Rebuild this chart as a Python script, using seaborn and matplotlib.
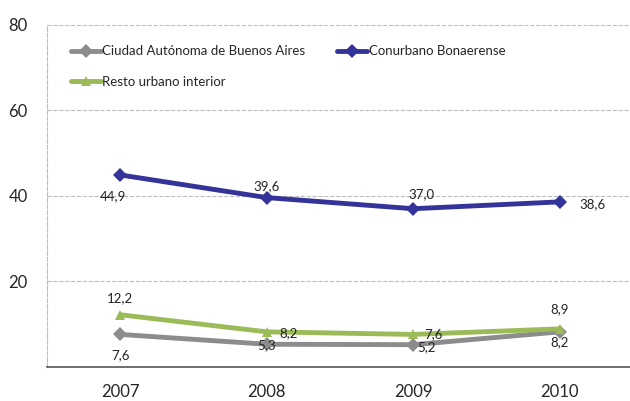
import pandas as pd
import seaborn as sns
import matplotlib.pyplot as plt

years = ['2007', '2008', '2009', '2010']
caba = [7.6, 5.3, 5.2, 8.2]
conurbano = [44.9, 39.6, 37.0, 38.6]
resto = [12.2, 8.2, 7.6, 8.9]
series = ['Ciudad Autónoma de Buenos Aires', 'Conurbano Bonaerense', 'Resto urbano interior']

sns.set_theme(style="white")
plt.rcParams['font.family'] = ['Lato', 'DejaVu Sans']

df = pd.DataFrame({
    'year': years * 3,
    'x': list(range(4)) * 3,
    'value': caba + conurbano + resto,
    'serie': [series[0]] * 4 + [series[1]] * 4 + [series[2]] * 4,
})

colors = {series[0]: '#8c8c8c', series[1]: '#333399', series[2]: '#9bbb59'}
markers = {series[0]: 'D', series[1]: 'D', series[2]: '^'}

fig = plt.figure(figsize=(6.3, 4.01), dpi=100)
ax = fig.add_axes([0.0746, 0.085, 0.93, 0.853])

sns.lineplot(data=df, x='x', y='value', hue='serie', style='serie',
             palette=colors, markers=markers, dashes=False, linewidth=3.5,
             markersize=7, markeredgewidth=0, ax=ax)

# label offsets in pixels, picked by eye
offsets = {
    series[0]: [(0, -21), (0, -1), (13, -2), (0, -10)],
    series[1]: [(-7, -21), (0, 11), (8, 15), (33, -2)],
    series[2]: [(0, 17), (22, -1), (20, 0), (0, 20)],
}
for s, vals in zip(series, [caba, conurbano, resto]):
    for i, v in enumerate(vals):
        ax.annotate(f'{v:.1f}'.replace('.', ','), (i, v), xytext=offsets[s][i],
                    textcoords='offset pixels', ha='center', va='center',
                    fontsize=9.5, color='#222222')

ax.set_xlim(-0.5, 3.5)
ax.set_ylim(0, 80)
ax.set_yticks([20, 40, 60, 80])
ax.set_xticks([0, 1, 2, 3])
ax.set_xticklabels(years)
ax.set_xticks([-0.5, 0.5, 1.5, 2.5, 3.5], minor=True)
ax.tick_params(axis='x', which='major', length=0, labelsize=12, pad=12)
ax.tick_params(axis='x', which='minor', length=5, width=1, color='#555555', direction='out')
ax.tick_params(axis='y', length=0, labelsize=12, pad=14)
ax.set_xlabel('')
ax.set_ylabel('')
ax.grid(axis='y', color='#bbbbbb', linestyle='--', linewidth=0.8)

for side in ['top', 'right']:
    ax.spines[side].set_visible(False)
ax.spines['left'].set_linestyle('--')
ax.spines['left'].set_color('#bbbbbb')
ax.spines['left'].set_linewidth(0.8)
ax.spines['bottom'].set_color('#555555')
ax.spines['bottom'].set_linewidth(1.2)

# order so the legend fills row by row
handles, labels = ax.get_legend_handles_labels()
order = [labels.index(series[0]), labels.index(series[2]), labels.index(series[1])]
ax.legend([handles[i] for i in order], [labels[i] for i in order],
          loc='upper left', bbox_to_anchor=(0.02, 0.975), ncol=2, frameon=False,
          fontsize=9.5, handlelength=2.3, handletextpad=0.1, columnspacing=2.4,
          labelspacing=1.4)

fig.savefig('out.png', dpi=100)
